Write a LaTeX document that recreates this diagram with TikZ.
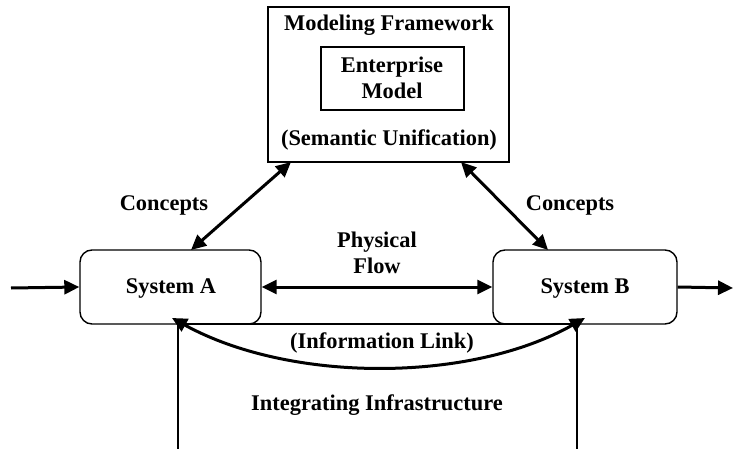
\documentclass[tikz,border=0pt]{standalone}
\usepackage{fontspec}
\setmainfont{Liberation Serif}
\usetikzlibrary{arrows.meta}
\begin{document}
\begin{tikzpicture}[x=1pt,y=-1pt,
  lbl/.style={font=\fontsize{22.4}{26}\selectfont\bfseries, align=center, inner sep=0pt},
  frame/.style={draw, line width=1.4pt, inner sep=0pt},
  sysbox/.style={frame, rounded corners=12pt},
  flow/.style={line width=3pt, -{Triangle[length=15pt,width=14pt]}},
  bothflow/.style={line width=3pt, {Triangle[length=15pt,width=14pt]}-{Triangle[length=15pt,width=14pt]}}]
\useasboundingbox (0,0) rectangle (733,449);

% framework and the model inside it
\node[frame, minimum width=241pt, minimum height=155pt] (mf) at (388.5,84.5) {};
\node[frame, minimum width=143pt, minimum height=63pt] (em) at (392.5,78.5) {};
\node[lbl] (mft) at (389,25) {Modeling Framework};
\node[lbl] (emt) at (392,78) {Enterprise\\Model};
\node[lbl] (sem) at (389,140) {(Semantic Unification)};

% the two systems
\node[sysbox, minimum width=181pt, minimum height=74pt] (sa) at (170.5,287) {};
\node[sysbox, minimum width=184pt, minimum height=74pt] (sb) at (585,287) {};
\node[lbl] (sat) at (171,288) {System A};
\node[lbl] (sbt) at (585,288) {System B};

% integrating infrastructure, open at the bottom
\coordinate (iTL) at (178,324);
\coordinate (iTR) at (577,324);
\coordinate (iBL) at (178,449);
\coordinate (iBR) at (577,449);
\draw[line width=1.4pt] (iBL) -- (iTL) -- (iTR) -- (iBR);
\node[lbl] (ilk) at (382,343) {(Information Link)};
\node[lbl] (iit) at (377,405) {Integrating Infrastructure};

% concepts links
\coordinate (mfL) at (291,162);
\coordinate (mfR) at (461,162);
\coordinate (saT) at (191,250);
\coordinate (sbT) at (548,250);
\draw[bothflow] (mfL) -- (saT);
\draw[bothflow] (mfR) -- (sbT);
\node[lbl] (cl) at (164,205) {Concepts};
\node[lbl] (cr) at (570,205) {Concepts};

% physical flow
\draw[bothflow] (sa.east) -- (sb.east -| sb.west);
\node[lbl] (pf) at (377,253) {Physical\\Flow};

% external input and output
\coordinate (inS) at (11,288);
\coordinate (outE) at (733,288);
\draw[flow] (inS) -- (sa.west);
\draw[flow] (sb.east) -- (outE);

% information link
\coordinate (saB) at (172,318);
\coordinate (sbB) at (585,318);
\draw[bothflow] (sbB) .. controls (470,383) and (290,383) .. (saB);
\end{tikzpicture}
\end{document}
